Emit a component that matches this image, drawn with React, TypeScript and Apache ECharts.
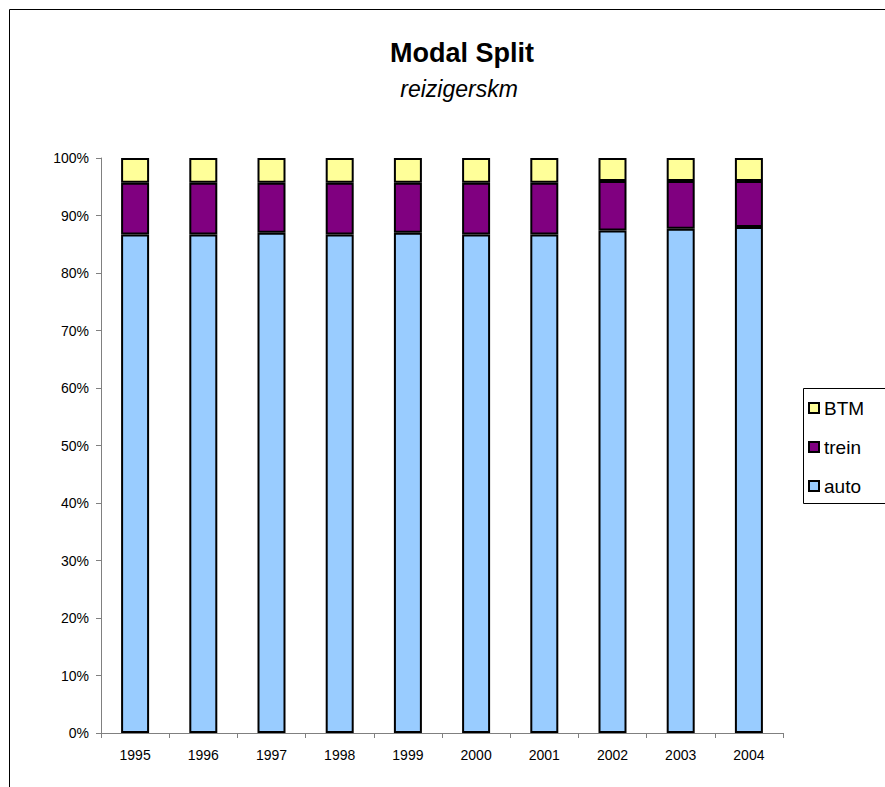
import React, { useEffect, useRef } from "react";
import * as echarts from "echarts";

// Years on the category axis
const years = ["1995", "1996", "1997", "1998", "1999", "2000", "2001", "2002", "2003", "2004"];

// Share of passenger-kilometres per mode (percent, each year sums to 100)
const autoShare = [86.7, 86.7, 87.0, 86.7, 87.0, 86.7, 86.7, 87.4, 87.7, 88.0];
const treinShare = [9.0, 9.0, 8.7, 9.0, 8.7, 9.0, 9.0, 8.6, 8.3, 8.0];
const btmShare = [4.3, 4.3, 4.3, 4.3, 4.3, 4.3, 4.3, 4.0, 4.0, 4.0];

const legendOrder = ["BTM", "trein", "auto"];

const FONT = "'Liberation Sans', Arial, sans-serif";

export default function App() {
  const ref = useRef<HTMLDivElement>(null);

  useEffect(() => {
    document.body.style.margin = "0";
    if (!ref.current) return;
    const chart = echarts.init(ref.current, undefined, { renderer: "svg" });

    const barStyle = (color: string) => ({
      color,
      borderColor: "#000000",
      borderWidth: 2,
    });

    chart.setOption({
      animation: false,
      backgroundColor: "#ffffff",
      textStyle: { fontFamily: FONT },
      title: [
        {
          text: "Modal Split",
          left: 457,
          top: 34,
          textAlign: "center",
          textStyle: { fontSize: 27, fontWeight: "bold", color: "#000", fontFamily: FONT },
        },
        {
          text: "reizigerskm",
          left: 454,
          top: 72,
          textAlign: "center",
          textStyle: { fontSize: 23, fontStyle: "italic", fontWeight: "normal", color: "#000", fontFamily: FONT },
        },
      ],
      graphic: [
        {
          type: "rect",
          shape: { x: 9.5, y: 9.5, width: 1000, height: 1000 },
          style: { fill: "none", stroke: "#000", lineWidth: 1 },
          silent: true,
        },
        {
          type: "rect",
          shape: { x: 803.5, y: 388.5, width: 200, height: 115 },
          style: { fill: "#fff", stroke: "#000", lineWidth: 1 },
          silent: true,
          z: 0,
        },
      ],
      legend: {
        data: legendOrder,
        orient: "vertical",
        left: 808,
        top: 398,
        padding: 0,
        itemWidth: 10,
        itemHeight: 10,
        itemGap: 19,
        icon: "rect",
        textStyle: { fontSize: 19, lineHeight: 20, color: "#000", fontFamily: FONT },
        z: 10,
      },
      grid: { left: 101, top: 158, width: 682, height: 575, containLabel: false },
      xAxis: {
        type: "category",
        data: years,
        axisLine: { show: true, lineStyle: { color: "#808080", width: 1 } },
        axisTick: { show: true, alignWithLabel: false, length: 5, lineStyle: { color: "#808080" } },
        axisLabel: { fontSize: 14, color: "#000", margin: 15, fontFamily: FONT },
        splitLine: { show: false },
      },
      yAxis: {
        type: "value",
        min: 0,
        max: 100,
        interval: 10,
        axisLine: { show: true, lineStyle: { color: "#808080", width: 1 } },
        axisTick: { show: true, length: 5, lineStyle: { color: "#808080" } },
        axisLabel: { fontSize: 14, color: "#000", margin: 12, formatter: "{value}%", fontFamily: FONT },
        splitLine: { show: false },
      },
      series: [
        { name: "auto", type: "bar", stack: "total", data: autoShare, barWidth: 28, itemStyle: barStyle("#99CCFF") },
        { name: "trein", type: "bar", stack: "total", data: treinShare, barWidth: 28, itemStyle: barStyle("#800080") },
        { name: "BTM", type: "bar", stack: "total", data: btmShare, barWidth: 28, itemStyle: barStyle("#FFFF99") },
      ],
    });

    return () => chart.dispose();
  }, []);

  return <div ref={ref} style={{ width: 885, height: 787 }} />;
}
